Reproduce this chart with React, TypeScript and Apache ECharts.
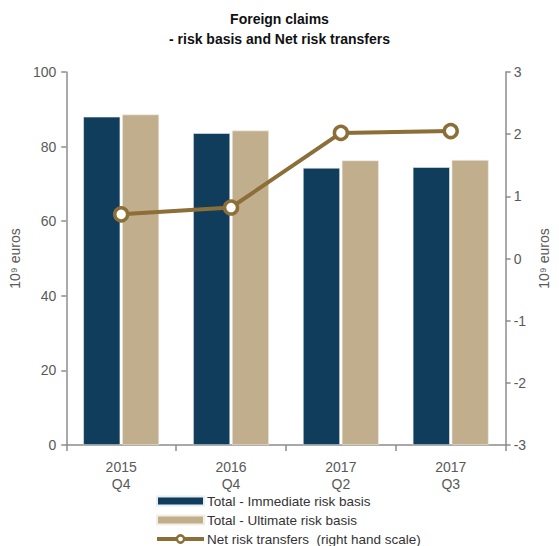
import React, { useEffect, useRef } from "react";
import * as echarts from "echarts";

const categories = ["2015\nQ4", "2016\nQ4", "2017\nQ2", "2017\nQ3"];
const immediateRisk = [88.0, 83.6, 74.3, 74.5];
const ultimateRisk = [88.6, 84.3, 76.3, 76.4];
const netRiskTransfers = [0.71, 0.82, 2.02, 2.05];
const leftTicks = { min: 0, max: 100, interval: 20 };
const rightTicks = { min: -3, max: 3, interval: 1 };

const FONT = "'Liberation Sans', Arial, sans-serif";
const GREY = "#595959";
const AXIS = "#8c8c8c";
const LINE = "#8b6e38";

export default function App() {
  const ref = useRef<HTMLDivElement>(null);
  useEffect(() => {
    if (!ref.current) return;
    const chart = echarts.init(ref.current, undefined, { renderer: "svg" });
    chart.setOption({
      animation: false,
      textStyle: { fontFamily: FONT },
      title: {
        text: "Foreign claims\n- risk basis and Net risk transfers",
        left: "center",
        top: 4,
        textStyle: { fontFamily: FONT, fontSize: 14, fontWeight: "bold", color: "#111", lineHeight: 20 },
      },
      grid: { left: 60, right: 40, top: 72, bottom: 101 },
      legend: {
        orient: "vertical",
        left: 155,
        top: 494,
        padding: 0,
        itemGap: 5,
        itemWidth: 47,
        itemHeight: 9,
        textStyle: { fontFamily: FONT, fontSize: 13.5, color: "#333", padding: [0, 0, 0, -2] },
        data: [
          { name: "Total - Immediate risk basis", icon: "rect" },
          { name: "Total - Ultimate risk basis", icon: "rect" },
          {
            name: "Net risk transfers  (right hand scale)",
            lineStyle: { width: 4, color: LINE },
            itemStyle: { borderWidth: 2.5, borderColor: LINE, color: "#fff" },
          },
        ],
      },
      xAxis: {
        type: "category",
        data: categories,
        axisLine: { lineStyle: { color: AXIS, width: 1.5 } },
        axisTick: { show: true, length: 6, lineStyle: { color: AXIS, width: 1.5 } },
        axisLabel: { fontFamily: FONT, fontSize: 14, color: GREY, margin: 13, lineHeight: 17 },
      },
      yAxis: [
        {
          type: "value",
          ...leftTicks,
          name: "10⁹ euros",
          nameLocation: "middle",
          nameGap: 35,
          nameTextStyle: { fontFamily: FONT, fontSize: 14, color: GREY },
          axisLine: { show: true, lineStyle: { color: AXIS, width: 1.5 } },
          axisTick: { show: true, length: 5, lineStyle: { color: AXIS, width: 1.5 } },
          axisLabel: { fontFamily: FONT, fontSize: 14, color: GREY, margin: 10 },
          splitLine: { show: false },
        },
        {
          type: "value",
          ...rightTicks,
          position: "right",
          name: "10⁹ euros",
          nameLocation: "middle",
          nameGap: 24,
          nameTextStyle: { fontFamily: FONT, fontSize: 14, color: GREY },
          axisLine: { show: true, lineStyle: { color: AXIS, width: 1.5 } },
          axisTick: { show: true, length: 5, lineStyle: { color: AXIS, width: 1.5 } },
          axisLabel: { fontFamily: FONT, fontSize: 14, color: GREY, margin: 8 },
          splitLine: { show: false },
        },
      ],
      series: [
        {
          name: "Total - Immediate risk basis",
          type: "bar",
          data: immediateRisk,
          barWidth: 37,
          barGap: "5%",
          itemStyle: { color: "#0f3d5b", borderColor: "#e8eef2", borderWidth: 0.6 },
        },
        {
          name: "Total - Ultimate risk basis",
          type: "bar",
          data: ultimateRisk,
          barWidth: 37,
          barGap: "5%",
          itemStyle: { color: "#c1ae8d", borderColor: "#f3efe6", borderWidth: 0.6 },
        },
        {
          name: "Net risk transfers  (right hand scale)",
          type: "line",
          yAxisIndex: 1,
          data: netRiskTransfers,
          symbol: "circle",
          symbolSize: 13,
          lineStyle: { color: LINE, width: 4 },
          itemStyle: { color: "#ffffff", borderColor: LINE, borderWidth: 3.5 },
          z: 5,
        },
      ],
    });
    return () => chart.dispose();
  }, []);
  return (
    <div
      ref={ref}
      style={{ position: "fixed", left: 0, top: 0, width: 559, height: 546, background: "#fff" }}
    />
  );
}
